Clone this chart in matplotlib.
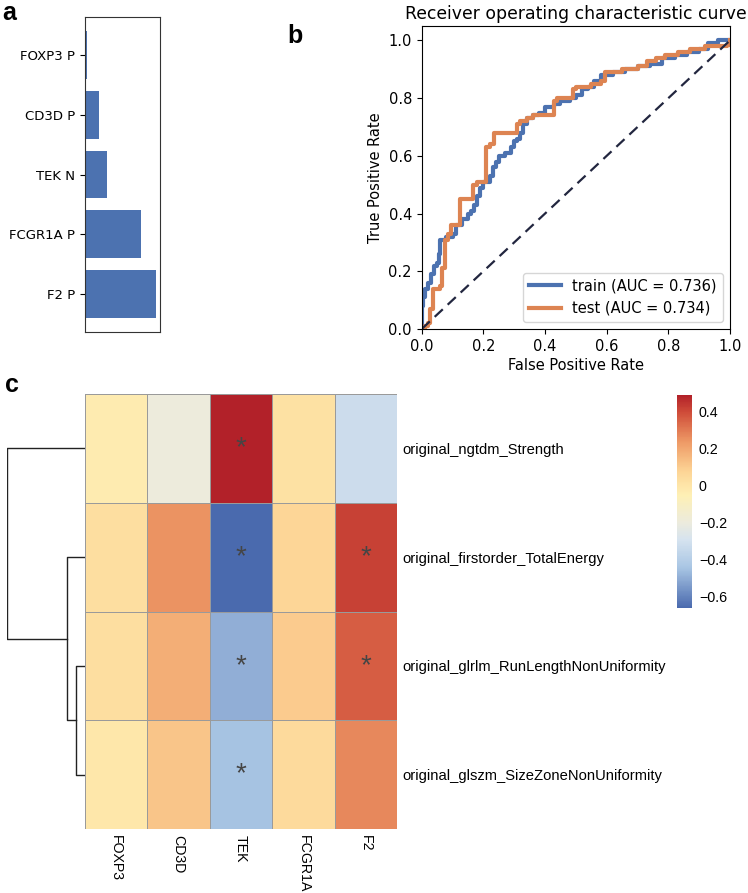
import numpy as np
import matplotlib
matplotlib.use("Agg")
import matplotlib.pyplot as plt
from matplotlib.colors import LinearSegmentedColormap

# ---------------- data ----------------
# panel a
bar_labels = ["F2 P", "FCGR1A P", "TEK N", "CD3D P", "FOXP3 P"]
bar_values = [0.71, 0.56, 0.22, 0.14, 0.02]

# panel b (ROC step levels)
train_fpr = [0.00, 0.00, 0.005, 0.01, 0.02, 0.03, 0.04, 0.05, 0.055, 0.06,
             0.08, 0.10, 0.11, 0.13, 0.15, 0.16, 0.17, 0.18, 0.19, 0.20,
             0.22, 0.23, 0.24, 0.25, 0.27, 0.29, 0.30, 0.31, 0.32, 0.33,
             0.34, 0.36, 0.38, 0.40, 0.43, 0.45, 0.48, 0.50, 0.52, 0.54,
             0.56, 0.58, 0.62, 0.66, 0.70, 0.74, 0.78, 0.82, 0.86, 0.90,
             0.93, 0.96, 1.00]
train_tpr = [0.00, 0.08, 0.11, 0.14, 0.16, 0.19, 0.22, 0.23, 0.26, 0.31,
             0.32, 0.33, 0.36, 0.38, 0.40, 0.41, 0.43, 0.46, 0.49, 0.51,
             0.53, 0.56, 0.58, 0.60, 0.61, 0.63, 0.65, 0.66, 0.68, 0.71,
             0.73, 0.74, 0.75, 0.77, 0.78, 0.79, 0.80, 0.81, 0.83, 0.84,
             0.86, 0.88, 0.89, 0.90, 0.91, 0.92, 0.94, 0.95, 0.96, 0.97,
             0.99, 1.00, 1.00]
test_fpr = [0.00, 0.01, 0.02, 0.026, 0.037, 0.058, 0.065, 0.075, 0.085, 0.095,
            0.125, 0.165, 0.18, 0.21, 0.22, 0.235, 0.31, 0.32, 0.34, 0.36,
            0.43, 0.44, 0.49, 0.50, 0.55, 0.58, 0.595, 0.65, 0.70, 0.73,
            0.76, 0.79, 0.83, 0.87, 0.92, 0.99, 1.00]
test_tpr = [0.00, 0.01, 0.02, 0.07, 0.14, 0.15, 0.21, 0.31, 0.33, 0.36,
            0.45, 0.50, 0.51, 0.63, 0.64, 0.68, 0.71, 0.72, 0.73, 0.74,
            0.79, 0.80, 0.83, 0.84, 0.85, 0.86, 0.89, 0.90, 0.91, 0.93,
            0.94, 0.95, 0.96, 0.97, 0.98, 0.985, 1.00]
train_auc = 0.736
test_auc = 0.734

# panel c
genes = ["FOXP3", "CD3D", "TEK", "FCGR1A", "F2"]
features = ["original_ngtdm_Strength", "original_firstorder_TotalEnergy",
            "original_glrlm_RunLengthNonUniformity", "original_glszm_SizeZoneNonUniformity"]
corr = np.array([
    [-0.03, -0.20, 0.49, 0.02, -0.33],
    [0.03, 0.25, -0.665, 0.07, 0.42],
    [0.03, 0.18, -0.50, 0.10, 0.36],
    [-0.01, 0.12, -0.45, 0.05, 0.27],
])
signif = np.array([
    [0, 0, 1, 0, 0],
    [0, 0, 1, 0, 1],
    [0, 0, 1, 0, 1],
    [0, 0, 1, 0, 0],
])
# hierarchical clustering of rows: (left, right, height); clusters numbered 4, 5, 6
linkage = [(2, 3, 0.115), (1, 4, 0.23), (0, 5, 1.0)]
cbar_ticks = [0.4, 0.2, 0, -0.2, -0.4, -0.6]

# ---------------- figure ----------------
W, H = 748, 893
fig = plt.figure(figsize=(W / 100, H / 100), dpi=100)

def rect(l, t, r, b):
    return [l / W, 1 - b / H, (r - l) / W, (b - t) / H]

blue = "#4C72B0"
orange = "#DD8452"

# ---- panel a ----
axa = fig.add_axes(rect(85, 17, 160, 332))
ypos = np.arange(len(bar_labels))
axa.barh(ypos, bar_values, color=blue, height=0.8)
axa.set_yticks(ypos)
axa.set_yticklabels(bar_labels, fontsize=9.5)
axa.set_xticks([])
axa.set_xlim(0, max(bar_values) * 1.06)
for s in axa.spines.values():
    s.set_color("#333333")

# ---- panel b ----
axb = fig.add_axes(rect(421.7, 26, 730, 329))
axb.plot(train_fpr, train_tpr, drawstyle="steps-post", color=blue, lw=3,
         label=f"train (AUC = {train_auc:.3f})")
axb.plot(test_fpr, test_tpr, drawstyle="steps-post", color=orange, lw=3,
         label=f"test (AUC = {test_auc:.3f})")
axb.plot([0, 1], [0, 1], color="#22263f", lw=1.6, ls=(0, (5, 3)))
axb.set_xlim(0, 1)
axb.set_ylim(0, 1.05)
axb.set_xticks([0, 0.2, 0.4, 0.6, 0.8, 1.0])
axb.set_yticks([0, 0.2, 0.4, 0.6, 0.8, 1.0])
axb.tick_params(labelsize=10.5)
axb.set_xlabel("False Positive Rate", fontsize=10.5, labelpad=3)
axb.set_ylabel("True Positive Rate", fontsize=10.5)
axb.set_title("Receiver operating characteristic curve", fontsize=12.4, pad=5)
axb.legend(loc="lower right", fontsize=10.5, handlelength=2.2)

# ---- panel c heatmap ----
cmap = LinearSegmentedColormap.from_list(
    "heat",
    [(0.00, "#4a6aae"), (0.19, "#a9c6e4"), (0.32, "#d6e3ef"), (0.40, "#ecebdd"),
     (0.53, "#fef0b5"), (0.64, "#fdd596"), (0.78, "#ee9a66"), (0.92, "#cf4c39"),
     (1.00, "#b22129")])
vmin, vmax = corr.min(), corr.max()

axc = fig.add_axes(rect(85, 394, 397, 829))
mesh = axc.pcolormesh(corr, cmap=cmap, vmin=vmin, vmax=vmax,
                      edgecolors="#9a9a9a", linewidth=0.7)
axc.set_xlim(0, len(genes))
axc.set_ylim(len(features), 0)
for i in range(len(features)):
    for j in range(len(genes)):
        if signif[i, j]:
            axc.text(j + 0.5, i + 0.5, "*", ha="center", va="center",
                     fontsize=20, color="#454545", family="Liberation Sans")
axc.set_xticks(np.arange(len(genes)) + 0.5)
axc.set_xticklabels(genes, rotation=-90, fontsize=10.2, family="Liberation Sans",
                    va="top")
axc.yaxis.tick_right()
axc.set_yticks(np.arange(len(features)) + 0.5)
axc.set_yticklabels(features, fontsize=10.6, family="Liberation Sans")
axc.tick_params(length=0, pad=4)
for s in axc.spines.values():
    s.set_visible(False)

# dendrogram
axd = fig.add_axes(rect(7, 394, 85, 829))
pos = {k: k + 0.5 for k in range(len(features))}
hgt = {k: 0.0 for k in range(len(features))}
nid = len(features)
for a, b, h in linkage:
    ya, yb = pos[a], pos[b]
    axd.plot([hgt[a], h, h, hgt[b]], [ya, ya, yb, yb], color="#222222", lw=1.0)
    pos[nid] = (ya + yb) / 2
    hgt[nid] = h
    nid += 1
axd.set_xlim(max(h for _, _, h in linkage), 0)
axd.set_ylim(len(features), 0)
axd.axis("off")

# colorbar
axcb = fig.add_axes(rect(677, 395, 692, 608))
cb = fig.colorbar(mesh, cax=axcb)
cb.outline.set_visible(False)
cb.set_ticks(cbar_ticks)
cb.set_ticklabels(["0.4", "0.2", "0", "\u22120.2", "\u22120.4", "\u22120.6"])
axcb.tick_params(length=0, labelsize=10.3, pad=5)
for t in axcb.get_yticklabels():
    t.set_family("Liberation Sans")

# panel letters
for x, y, s in [(2, 20, "a"), (287, 43, "b"), (5, 392, "c")]:
    fig.text(x / W, 1 - y / H, s, fontsize=18, fontweight="bold",
             family="Liberation Sans", va="baseline")

fig.savefig("out.png", dpi=100)
